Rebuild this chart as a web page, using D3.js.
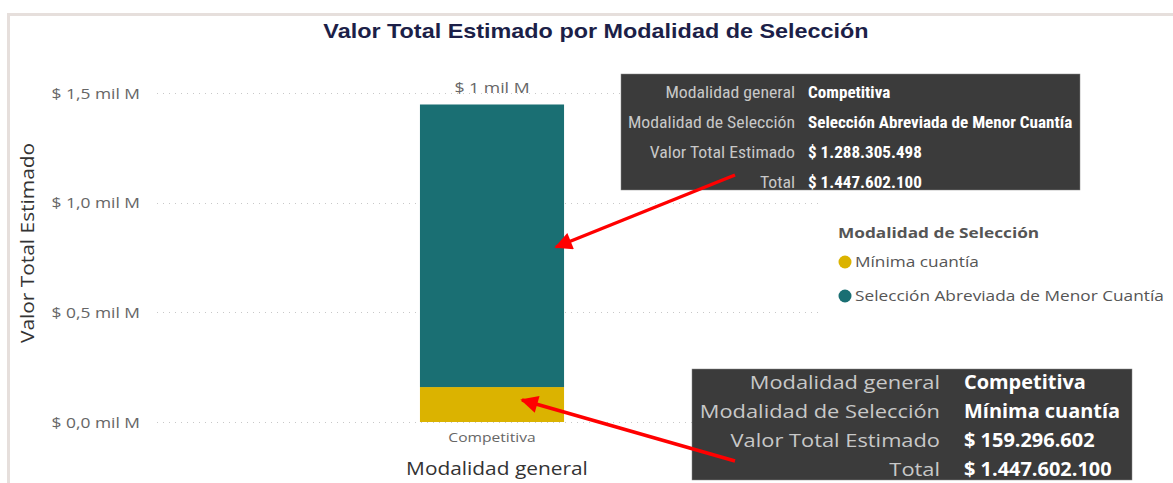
<!DOCTYPE html>
<html>
<head>
<meta charset="utf-8">
<script src="https://cdn.jsdelivr.net/npm/d3@7"></script>
<style>
  body { margin: 0; background: #fff; }
  text { font-family: "Open Sans", "Noto Sans", sans-serif; }
</style>
</head>
<body>
<script>
var w = 1173;
var h = 483;

// data
var categories = ["Competitiva"];
var seriesNames = ["Mínima cuantía", "Selección Abreviada de Menor Cuantía"];
var seriesValues = [159296602, 1288305498];
var seriesColors = ["#dbb300", "#1a6f73"];
var yTicks = [0, 0.5e9, 1.0e9, 1.5e9];
var yTickLabels = ["$ 0,0 mil M", "$ 0,5 mil M", "$ 1,0 mil M", "$ 1,5 mil M"];
var totalLabel = "$ 1 mil M";

// tooltip rows as seen in the picture
var tipLabels = ["Modalidad general", "Modalidad de Selección", "Valor Total Estimado", "Total"];
var tip1Values = ["Competitiva", "Selección Abreviada de Menor Cuantía", "$ 1.288.305.498", "$ 1.447.602.100"];
var tip2Values = ["Competitiva", "Mínima cuantía", "$ 159.296.602", "$ 1.447.602.100"];

var svg = d3.select("body").append("svg").attr("width", w).attr("height", h);

// the screenshot is a bit wider than tall, so text gets stretched sideways
function stretch(sel, sx) {
  sel.each(function() {
    var t = d3.select(this);
    var x = +t.attr("x") || 0, y = +t.attr("y") || 0;
    t.attr("transform", "translate(" + x + "," + y + ") scale(" + sx + ",1) translate(" + (-x) + "," + (-y) + ")");
  });
}

// frame of the visual
svg.append("line").attr("x1", 7).attr("x2", w).attr("y1", 14.5).attr("y2", 14.5)
  .attr("stroke", "#e6dfdc").attr("stroke-width", 3);
svg.append("line").attr("x1", 8.5).attr("x2", 8.5).attr("y1", 14).attr("y2", h)
  .attr("stroke", "#e6dfdc").attr("stroke-width", 3);

// title
svg.append("text")
  .attr("x", 596).attr("y", 38)
  .attr("text-anchor", "middle")
  .style("font-size", "20px").style("font-weight", "bold")
  .style("font-family", "'Liberation Sans', Arial, sans-serif")
  .attr("fill", "#1c1f48")
  .text("Valor Total Estimado por Modalidad de Selección")
  .call(stretch, 1.17);

var yScale = d3.scaleLinear().domain([0, 1.5e9]).range([422, 93]);
var xScale = d3.scaleBand().domain(categories).range([157, 827]).paddingInner(0.646).paddingOuter(0.646);

// grid lines
svg.append("g").selectAll("line")
  .data(yTicks).enter().append("line")
  .attr("x1", 157).attr("x2", 822)
  .attr("y1", function(d) { return Math.round(yScale(d)) + 0.5; })
  .attr("y2", function(d) { return Math.round(yScale(d)) + 0.5; })
  .attr("stroke", "#c8c8c8").attr("stroke-dasharray", "1,5");

// y axis labels
var yAxis = svg.append("g").attr("transform", "translate(148,0)")
  .call(d3.axisLeft(yScale).tickValues(yTicks).tickSize(0).tickPadding(8)
    .tickFormat(function(d, i) { return yTickLabels[i]; }));
yAxis.select(".domain").remove();
yAxis.selectAll("text").attr("fill", "#666").style("font-size", "15px")
  .attr("dy", "0.35em").call(stretch, 1.16);

svg.append("text")
  .attr("x", 0).attr("y", 0)
  .attr("transform", "translate(34,243) rotate(-90) scale(1.16,1)")
  .attr("text-anchor", "middle")
  .attr("fill", "#333").style("font-size", "18px")
  .text("Valor Total Estimado");

// stacked bar
var stackRows = categories.map(function(c) {
  var row = { cat: c };
  seriesNames.forEach(function(s, i) { row[s] = seriesValues[i]; });
  return row;
});
var stacked = d3.stack().keys(seriesNames)(stackRows);

svg.append("g").selectAll("g")
  .data(stacked).enter().append("g")
  .attr("fill", function(d, i) { return seriesColors[i]; })
  .selectAll("rect")
  .data(function(d) { return d; }).enter().append("rect")
  .attr("x", function(d) { return xScale(d.data.cat); })
  .attr("width", xScale.bandwidth())
  .attr("y", function(d) { return yScale(d[1]); })
  .attr("height", function(d) { return yScale(d[0]) - yScale(d[1]); });

// total label
svg.append("text")
  .attr("x", xScale(categories[0]) + xScale.bandwidth() / 2)
  .attr("y", yScale(d3.sum(seriesValues)) - 11)
  .attr("text-anchor", "middle")
  .attr("fill", "#666").style("font-size", "15px")
  .text(totalLabel)
  .call(stretch, 1.18);

// x axis
var xAxis = svg.append("g").attr("transform", "translate(0,430)")
  .call(d3.axisBottom(xScale).tickSize(0).tickPadding(3));
xAxis.select(".domain").remove();
xAxis.selectAll("text").attr("fill", "#666").style("font-size", "13px").call(stretch, 1.2);

svg.append("text")
  .attr("x", 497).attr("y", 475)
  .attr("text-anchor", "middle")
  .attr("fill", "#333").style("font-size", "18px")
  .text("Modalidad general")
  .call(stretch, 1.16);

// legend
var legend = svg.append("g").attr("transform", "translate(838,0)");
legend.append("text").attr("x", 0).attr("y", 238)
  .attr("fill", "#555").style("font-size", "15px").style("font-weight", "bold")
  .text("Modalidad de Selección")
  .call(stretch, 1.15);
var items = legend.selectAll(".item").data(seriesNames).enter().append("g")
  .attr("class", "item")
  .attr("transform", function(d, i) { return "translate(0," + (262 + i * 34) + ")"; });
items.append("circle").attr("cx", 7).attr("cy", 0).attr("r", 6.5)
  .attr("fill", function(d, i) { return seriesColors[i]; });
items.append("text").attr("x", 17).attr("y", 0).attr("dy", "0.35em")
  .attr("fill", "#555").style("font-size", "15px")
  .text(function(d) { return d; })
  .call(stretch, 1.15);

// tooltips
function tooltip(x, y, width, height, labelX, valueX, rowY, rowStep, size, values, font, sxLabel, sxValue) {
  var g = svg.append("g");
  g.append("rect").attr("x", x).attr("y", y).attr("width", width).attr("height", height)
    .attr("fill", "#3b3b3b").attr("stroke", "#888").attr("stroke-width", 0.5);
  tipLabels.forEach(function(l, i) {
    g.append("text").attr("x", labelX).attr("y", rowY + i * rowStep)
      .attr("text-anchor", "end").attr("fill", "#c8c8c8").style("font-size", size + "px")
      .style("font-family", font)
      .text(l).call(stretch, sxLabel);
    g.append("text").attr("x", valueX).attr("y", rowY + i * rowStep)
      .attr("fill", "#fff").style("font-size", size + "px").style("font-weight", "bold")
      .style("font-family", font)
      .text(values[i]).call(stretch, sxValue);
  });
}
tooltip(621, 74, 459, 116, 795, 808, 98, 30, 16, tip1Values, "'Liberation Sans Narrow', 'Roboto Condensed', sans-serif", 1.11, 1.07);
tooltip(692, 369, 440, 111, 940, 964, 389, 29, 19, tip2Values, "'Open Sans', sans-serif", 1.15, 1.05);

// red arrows
var defs = svg.append("defs");
defs.append("marker").attr("id", "head")
  .attr("viewBox", "0 0 10 10").attr("refX", 9).attr("refY", 5)
  .attr("markerWidth", 6).attr("markerHeight", 5).attr("markerUnits", "strokeWidth")
  .attr("orient", "auto")
  .append("path").attr("d", "M0,0L10,5L0,10Z").attr("fill", "#ff0000");

var arrows = [
  { x1: 735, y1: 175, x2: 556, y2: 247 },
  { x1: 735, y1: 461, x2: 522, y2: 400 }
];
svg.append("g").selectAll("line").data(arrows).enter().append("line")
  .attr("x1", function(d) { return d.x1; }).attr("y1", function(d) { return d.y1; })
  .attr("x2", function(d) { return d.x2; }).attr("y2", function(d) { return d.y2; })
  .attr("stroke", "#ff0000").attr("stroke-width", 3.5)
  .attr("marker-end", "url(#head)");
</script>
</body>
</html>
